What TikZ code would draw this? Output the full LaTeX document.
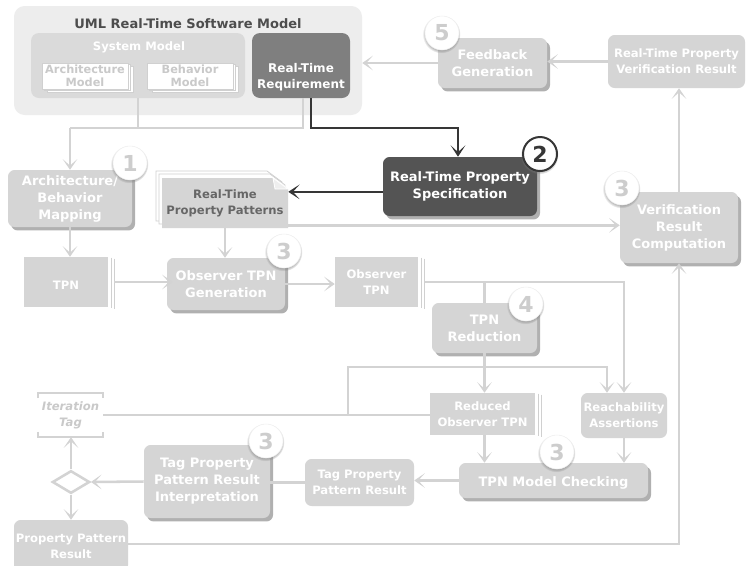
\documentclass[tikz,border=0pt]{standalone}
\usepackage{fontspec}
\setmainfont{DejaVu Sans}
\usetikzlibrary{arrows.meta,calc,shadows,shapes.geometric}

\definecolor{boxgray}{HTML}{D5D5D5}
\definecolor{linegray}{HTML}{D3D3D3}
\definecolor{shadowgray}{HTML}{B0B0B0}
\definecolor{umlback}{HTML}{EDEDED}
\definecolor{sysback}{HTML}{DADADA}
\definecolor{reqgray}{HTML}{7F7F7F}
\definecolor{specgray}{HTML}{545454}
\definecolor{darkline}{HTML}{363636}
\definecolor{titlegray}{HTML}{4D4D4D}
\definecolor{patterntext}{HTML}{666666}
\definecolor{digitgray}{HTML}{CDCDCD}
\definecolor{papertext}{HTML}{C9C9C9}
\definecolor{paperedge}{HTML}{D0D0D0}

% font sizes (bold sans)
\newcommand\fontbig{\fontsize{9.75}{12.75}\selectfont\bfseries}
\newcommand\fontreq{\fontsize{9}{12}\selectfont\bfseries}
\newcommand\fontsmall{\fontsize{8.7}{11.8}\selectfont\bfseries}
\newcommand\fontpaper{\fontsize{8.5}{10}\selectfont\bfseries}

\tikzset{
  % rectangle given by its corners (x1,y1) (x2,y2) in picture units
  boxspan/.style n args={4}{minimum width={((#3)-(#1))*0.75pt},
    minimum height={((#4)-(#2))*0.75pt}, at={({((#1)+(#3))/2},{((#2)+(#4))/2})}},
  % first-line strut: sets the labels a little below the geometric centre
  lowtext/.style={execute at begin node={\rule{0pt}{10.5pt}}},
  boxbase/.style={inner sep=0pt, align=center, text=white, lowtext},
  procbox/.style={boxbase, rounded corners=5pt, fill=boxgray, font=\fontbig,
    general shadow={fill=shadowgray, shadow xshift=2.3pt, shadow yshift=-2.6pt}},
  plainbox/.style={boxbase, rounded corners=5pt, fill=boxgray, font=\fontsmall},
  docbox/.style={boxbase, fill=boxgray, font=\fontsmall},
  paperbox/.style={inner sep=0pt, align=center, fill=white, draw=paperedge,
    line width=0.6pt, text=papertext, font=\fontpaper},
  stackline/.style={draw=paperedge, line width=0.6pt},
  badge/.style={circle, fill=white, draw=black!6, line width=0.4pt,
    minimum size=25.5pt, inner sep=0pt, text=digitgray,
    font=\fontsize{16.5}{16.5}\selectfont\bfseries,
    circular drop shadow={shadow xshift=-0.4pt, shadow yshift=-0.8pt,
      shadow scale=1.12, opacity=0.5}},
  darkbadge/.style={badge, draw=darkline, line width=1.5pt, text=darkline},
  conn/.style={draw=linegray, line width=1.9pt},
  arr/.style={conn, -{Stealth[length=8pt,width=11pt,inset=5pt]}},
  darkarr/.style={draw=darkline, line width=2pt,
    -{Stealth[length=8.5pt,width=11pt,inset=5pt]}},
}

\newcommand\docstack[1]{%
  \draw[stackline] ($(#1.north east)+(3,1)$) -- ($(#1.south east)+(3,1)$);
  \draw[stackline] ($(#1.north east)+(6,2)$) -- ($(#1.south east)+(6,2)$);}

\begin{document}
\begin{tikzpicture}[x=0.75pt,y=-0.75pt]
\useasboundingbox (0,0) rectangle (746,565);
\fill[white] (0,0) rectangle (746,565);

% ---------- UML real-time software model ----------
\node[boxspan={14}{6}{362}{115}, inner sep=0pt, rounded corners=8pt, fill=umlback] (uml) {};
\node[font=\fontbig, text=titlegray, anchor=base] (umltitle) at (188,28) {UML Real-Time Software Model};
\node[boxspan={31}{33}{245}{98}, inner sep=0pt, rounded corners=6pt, fill=sysback] (sys) {};
\node[font=\fontsmall, text=white, anchor=base] (systitle) at (139,50) {System Model};

\foreach \d/\e in {5/3.4, 2.4/1.4} {
  \filldraw[fill=white, draw=paperedge, line width=0.6pt] (42+\d,63+\e) rectangle (128+\d,89+\e);
  \filldraw[fill=white, draw=paperedge, line width=0.6pt] (147+\d,63+\e) rectangle (233+\d,89+\e);
}
\node[paperbox, boxspan={42}{63}{128}{89}] (arch) {Architecture\\Model};
\node[paperbox, boxspan={147}{63}{233}{89}] (beh) {Behavior\\Model};

\node[boxspan={252}{33}{350}{98}, inner sep=0pt, rounded corners=6pt, fill=reqgray] (rtreq) {};
\node[font=\fontreq, text=white, align=center] (rtreqtext) at (301,77) {Real-Time\\Requirement};

% ---------- property patterns (stacked pages) ----------
\foreach \dx/\dy in {-6/-7, -3/-4} {
  \filldraw[fill=white, draw=paperedge, line width=0.6pt, shift={(\dx,\dy)}]
    (162,178) -- (273,178) -- (288,189) -- (288,228) -- (162,228) -- cycle;
}
\fill[boxgray] (162,178) -- (273,178) -- (288,189) -- (288,228) -- (162,228) -- cycle;
\filldraw[fill=white!60!boxgray, draw=white, line width=0.6pt] (273,178) -- (275,189) -- (288,189) -- cycle;
\node[boxspan={162}{178}{288}{228}, inner sep=0pt, align=center, text=patterntext,
  font=\fontsmall, lowtext] (rtpp) {Real-Time\\Property Patterns};

% ---------- process and artefact boxes ----------
\node[procbox, boxspan={8}{170}{132}{227}] (abm) {Architecture/\\Behavior\\Mapping};
\node[docbox, boxspan={24}{257}{108}{307}] (tpn) {TPN};
\node[procbox, boxspan={167}{258}{285}{310}] (otg) {Observer TPN\\Generation};
\node[docbox, boxspan={335}{257}{418}{307}] (otpn) {Observer\\TPN};
\node[procbox, fill=specgray, boxspan={383}{157}{537}{216}] (rtps) {Real-Time Property\\Specification};
\node[procbox, boxspan={620}{192}{738}{263}] (vrc) {Verification\\Result\\Computation};
\node[plainbox, boxspan={608}{35}{745}{88}] (rtpvr) {Real-Time Property\\Verification Result};
\node[procbox, boxspan={438}{38}{547}{88}] (fg) {Feedback\\Generation};
\node[procbox, boxspan={432}{303}{537}{353}] (tpnred) {TPN\\Reduction};
\node[docbox, boxspan={430}{393}{535}{435}] (rot) {Reduced\\Observer TPN};
\node[plainbox, boxspan={581}{393}{667}{438}] (reach) {Reachability\\Assertions};
\node[procbox, boxspan={459}{463}{648}{498}] (tmc) {TPN Model Checking};
\node[plainbox, boxspan={305}{459}{414}{506}] (tppr) {Tag Property\\Pattern Result};
\node[procbox, boxspan={144}{445}{270}{518}] (tppri) {Tag Property\\Pattern Result\\Interpretation};
\node[plainbox, boxspan={14}{520}{128}{572}] (ppr) {Property Pattern\\Result};

\docstack{tpn}
\docstack{otpn}
\docstack{rot}

% iteration tag with bracket marks
\node[boxspan={38}{393}{103}{437}, inner sep=0pt, align=center, text=papertext,
  font=\fontsmall\itshape, lowtext] (iter) {Iteration\\Tag};
\draw[draw=linegray, line width=1.5pt] ([yshift=-4pt]iter.north west) -- (iter.north west)
  -- (iter.north east) -- ([yshift=-4pt]iter.north east);
\draw[draw=linegray, line width=1.5pt] ([yshift=4pt]iter.south west) -- (iter.south west)
  -- (iter.south east) -- ([yshift=4pt]iter.south east);

% decision
\node[diamond, draw=linegray, line width=1.9pt, fill=white, minimum width=28pt,
  minimum height=17pt, inner sep=0pt] (dec) at (71,482) {};

% ---------- connectors ----------
\coordinate (j1) at (70,128);
\coordinate (j2) at (458,128);
\coordinate (j3) at (348,367);

\draw[conn] (sys.south) |- (j1);
\draw[conn] ([xshift=1.5pt]rtreq.south) |- (j1);
\draw[arr] (j1) -- (abm.north);
\draw[darkarr] ([xshift=7.5pt]rtreq.south) |- (j2) -- (j2 |- rtps.north);
\draw[darkarr] ([yshift=-4pt]rtps.west) -- ([yshift=-4pt]rtps.west -| rtpp.east);

\draw[arr] (abm.south) -- (abm.south |- tpn.north);
\draw[arr] (rtpp.south) -- (rtpp.south |- otg.north);
\draw[arr] ([yshift=2.2pt]rtpp.south east) -- ([yshift=2.2pt]rtpp.south east -| vrc.west);
\draw[arr] ([xshift=4.5pt]tpn.east) -- ([xshift=4.5pt]tpn.east -| otg.west);
\draw[arr] (otg.east) -- (otg.east -| otpn.west);
\draw[arr] ([xshift=5pt]otpn.east) -| (reach.north);
\draw[conn] (tpnred.north |- otpn.east) -- (tpnred.north);
\draw[arr] (tpnred.south) -- (tpnred.south |- rot.north);
\draw[arr] (rot.south -| tpnred.south) -- (tmc.north -| tpnred.south);
\draw[arr] (reach.south) -- (reach.south |- tmc.north);
\draw[conn] (iter.east) -- (iter.east -| rot.west);
\draw[arr] (iter.east -| j3) -- (j3) -| ([xshift=-12.75pt]reach.north);
\draw[arr] (tmc.west) -- (tmc.west -| tppr.east);
\draw[conn] (tppr.west) -- (tppr.west -| tppri.east);
\draw[arr] (tppri.west) -- (dec.east);
\draw[arr] (dec.north) -- (dec.north |- iter.south);
\draw[arr] (dec.south) -- (dec.south |- ppr.north);
\draw[arr] ([yshift=1.5pt]ppr.east) -| (vrc.south);
\draw[arr] (vrc.north) -- (vrc.north |- rtpvr.south);
\draw[arr] (rtpvr.west) -- (rtpvr.west -| fg.east);
\draw[arr] (fg.west) -- (fg.west -| uml.east);

% ---------- step badges ----------
\node[badge] (s1) at (130,163) {1};
\node[darkbadge] (s2) at (540,154) {2};
\node[badge] (s3a) at (284,251) {3};
\node[badge] (s3b) at (622,188) {3};
\node[badge] (s4) at (526,304) {4};
\node[badge] (s3c) at (557,452) {3};
\node[badge] (s3d) at (266,441) {3};
\node[badge] (s5) at (442,33) {5};
\end{tikzpicture}
\end{document}
